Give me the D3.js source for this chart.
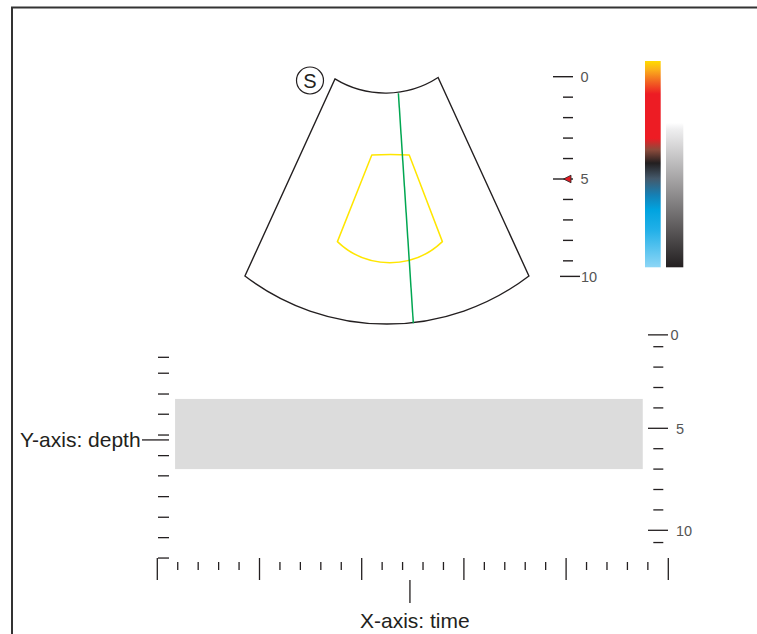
<!DOCTYPE html>
<html><head><meta charset="utf-8">
<script src="https://cdn.jsdelivr.net/npm/d3@7"></script>
<style>html,body{margin:0;padding:0;background:#fff;overflow:hidden}svg{display:block;font-family:"Liberation Sans",Arial,sans-serif}</style>
</head><body>
<svg id="chart" width="757" height="634"></svg>
<script>
// ---------- data ----------
// top (2D image) depth ruler
const topRulerValues = [0,1,2,3,4,5,6,7,8,9,9.76];
const topRulerLabels = ["0","","","","","5","","","","","10"];
const markerDepth = 5;
// sector outline (lateral, depth) in cm
const fanTop = [[-2.69,0.11],[-0.1,0.8],[2.35,0.04]];
const fanBottom = [[6.79,9.74],[-0.1,12.09],[-7.09,9.74]];
const beamLine = [[0.41,0.81],[1.14,12.05]];
const roiTop = [[-0.89,3.83],[0,3.8],[0.94,3.83]];
const roiBottom = [[2.56,8.06],[0,9.09],[-2.57,8.06]];
// colour bars
const dopplerOffsets = [0,0.04,0.1,0.16,0.375,0.43,0.495,0.57,0.65,0.72,0.82,1];
const dopplerColors = ["#ffdc00","#fbb21a","#f26522","#ed1c24","#ed1c24","#8c4b3c","#231f20","#44596b","#1580b5","#00a3df","#22b0e8","#8dd6f6"];
const grayOffsets = [0,0.3,0.33,1];
const grayColors = ["#ffffff","#ffffff","#efeff0","#231f20"];
// bottom (M-mode) panel
const rightRulerValues = [0.42,1,2,3,4,5,6,7,8,9,10,10.6];
const rightRulerLabels = ["0","","","","","5","","","","","10",""];
const leftRulerValues = [1.52,2.3,3.32,4.31,5.33,6.34,7.33,8.35,9.36,10.36,11.36];
const timeTicks = d3.range(0,26);
const bandTime = [0.87,23.75];
const bandDepth = [3.56,7.0];
const depthPointer = 5.57;
const timePointer = 12.36;
const yLabel = "Y-axis: depth";
const xLabel = "X-axis: time";
const probeLabel = "S";

// ---------- drawing ----------
const svg = d3.select("#chart");
const ink = "#231f20";

// frame
svg.append("rect").attr("x",12).attr("y",7.5).attr("width",800).attr("height",700)
  .attr("fill","none").attr("stroke","#333").attr("stroke-width",2);

// scales
const yTop = d3.scaleLinear().domain([0,10]).range([76.7,281.3]);
const xLat = d3.scaleLinear().domain([0,10]).range([390,594.6]);
const P = p => [xLat(p[0]), yTop(p[1])];

function arcTo(a,b,c){
  const [ax,ay]=a,[bx,by]=b,[cx,cy]=c;
  const d = 2*(ax*(by-cy)+bx*(cy-ay)+cx*(ay-by));
  const ux = ((ax*ax+ay*ay)*(by-cy)+(bx*bx+by*by)*(cy-ay)+(cx*cx+cy*cy)*(ay-by))/d;
  const uy = ((ax*ax+ay*ay)*(cx-bx)+(bx*bx+by*by)*(ax-cx)+(cx*cx+cy*cy)*(bx-ax))/d;
  const r = Math.hypot(ax-ux, ay-uy);
  const cross = (bx-ax)*(cy-ay)-(by-ay)*(cx-ax);
  return `A${r},${r} 0 0 ${cross>0?1:0} ${cx},${cy}`;
}
function sectorPath(top,bottom){
  const t = top.map(P), b = bottom.map(P);
  return `M${t[0]}` + arcTo(t[0],t[1],t[2]) + `L${b[0]}` + arcTo(b[0],b[1],b[2]) + "Z";
}

svg.append("path").attr("d",sectorPath(fanTop,fanBottom))
  .attr("fill","none").attr("stroke",ink).attr("stroke-width",1.4);
svg.append("path").attr("d",sectorPath(roiTop,roiBottom))
  .attr("fill","none").attr("stroke","#ffe600").attr("stroke-width",1.5).attr("stroke-linejoin","round");
svg.append("line")
  .attr("x1",P(beamLine[0])[0]).attr("y1",P(beamLine[0])[1])
  .attr("x2",P(beamLine[1])[0]).attr("y2",P(beamLine[1])[1])
  .attr("stroke","#00a651").attr("stroke-width",1.5);

// probe marker
svg.append("circle").attr("cx",310).attr("cy",80.5).attr("r",13.5)
  .attr("fill","none").attr("stroke",ink).attr("stroke-width",1.2);
svg.append("text").attr("x",310).attr("y",88).attr("text-anchor","middle")
  .attr("font-size",20).attr("fill",ink).text(probeLabel);

// top ruler
const topRuler = svg.append("g");
topRulerValues.forEach((v,i)=>{
  const y = yTop(v), lab = topRulerLabels[i];
  const last = i===topRulerValues.length-1;
  const x1 = lab ? (last?560:553) : 563, x2 = lab ? (last?580:573) : 573;
  topRuler.append("line").attr("x1",x1).attr("x2",x2).attr("y1",y).attr("y2",y)
    .attr("stroke",ink).attr("stroke-width",1.4);
  if(lab) topRuler.append("text").attr("x",last?581:580.5).attr("y",y).attr("dy","0.36em")
    .attr("font-size",14.5).attr("fill","#555").text(lab);
});
const my = yTop(markerDepth);
svg.append("path").attr("d",`M563.5,${my}L571,${my-3.8}L571,${my+3.8}Z`)
  .attr("fill","#e31b23").attr("stroke",ink).attr("stroke-width",0.8);

// colour bars
const defs = svg.append("defs");
function grad(id,offs,cols){
  const g = defs.append("linearGradient").attr("id",id).attr("x1",0).attr("x2",0).attr("y1",0).attr("y2",1);
  offs.forEach((o,i)=>g.append("stop").attr("offset",o).attr("stop-color",cols[i]));
}
grad("dop",dopplerOffsets,dopplerColors);
grad("gry",grayOffsets,grayColors);
svg.append("rect").attr("x",645).attr("y",61).attr("width",15.7).attr("height",206.3).attr("fill","url(#dop)");
svg.append("rect").attr("x",666).attr("y",61).attr("width",17.3).attr("height",206.3).attr("fill","url(#gry)");

// bottom panel
const yM = d3.scaleLinear().domain([0,10]).range([326.3,530.3]);
const xT = d3.scaleLinear().domain([0,25]).range([157.3,668.3]);

svg.append("rect").attr("x",xT(bandTime[0])).attr("y",yM(bandDepth[0]))
  .attr("width",xT(bandTime[1])-xT(bandTime[0])).attr("height",yM(bandDepth[1])-yM(bandDepth[0]))
  .attr("fill","#dcdcdc");

// right ruler
const rr = svg.append("g");
rightRulerValues.forEach((v,i)=>{
  const y = yM(v), lab = rightRulerLabels[i];
  rr.append("line").attr("x1",lab?648:653.3).attr("x2",lab?668:663.3).attr("y1",y).attr("y2",y)
    .attr("stroke",ink).attr("stroke-width",1.3);
  if(lab) rr.append("text").attr("x",lab==="0"?670.5:676).attr("y",y).attr("dy","0.36em")
    .attr("font-size",14.5).attr("fill","#555").text(lab);
});

// left ruler
const lr = svg.append("g");
leftRulerValues.forEach(v=>{
  lr.append("line").attr("x1",158).attr("x2",169).attr("y1",yM(v)).attr("y2",yM(v))
    .attr("stroke",ink).attr("stroke-width",1.3);
});
svg.append("line").attr("x1",142).attr("x2",169).attr("y1",yM(depthPointer)).attr("y2",yM(depthPointer))
  .attr("stroke",ink).attr("stroke-width",1.3);
svg.append("text").attr("x",20).attr("y",yM(depthPointer)+7.3).attr("font-size",21).attr("fill",ink).text(yLabel);

// time axis
const ta = svg.append("g");
timeTicks.forEach(t=>{
  const major = t%5===0;
  ta.append("line").attr("x1",xT(t)).attr("x2",xT(t))
    .attr("y1",major?558:562).attr("y2",major?580:570)
    .attr("stroke",ink).attr("stroke-width",1.3);
});
svg.append("line").attr("x1",xT(timePointer)).attr("x2",xT(timePointer)).attr("y1",580).attr("y2",603)
  .attr("stroke",ink).attr("stroke-width",1.3);
svg.append("text").attr("x",360).attr("y",627.5).attr("font-size",21).attr("fill",ink).text(xLabel);
</script>
</body></html>
